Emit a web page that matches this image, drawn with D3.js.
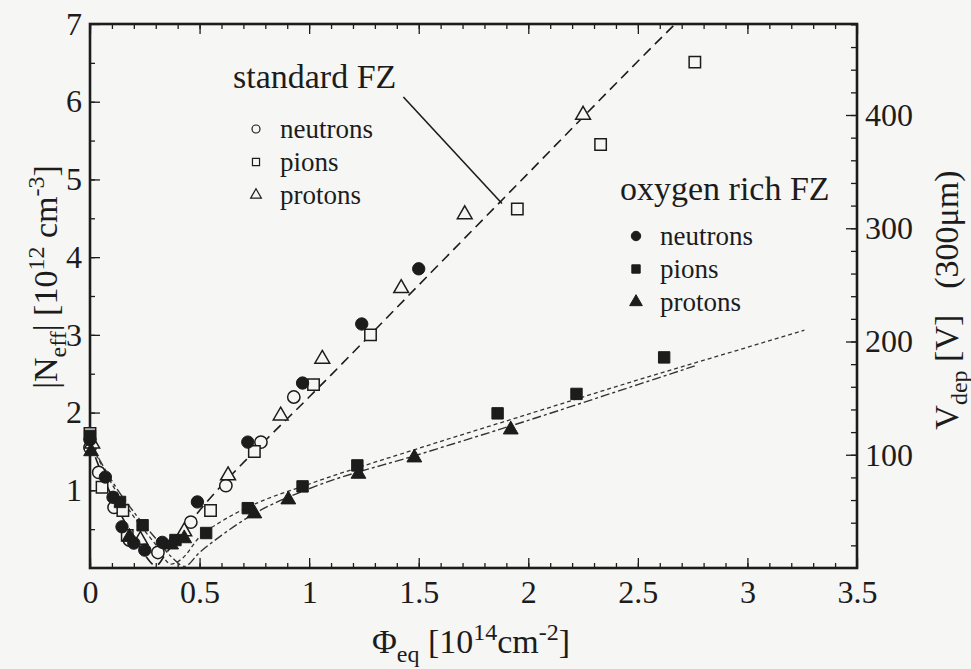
<!DOCTYPE html>
<html>
<head>
<meta charset="utf-8">
<title>Neff vs fluence</title>
<script src="https://cdn.jsdelivr.net/npm/d3@7"></script>
<style>
    body { margin: 0; background: #f6f6f4; }
    svg text { font-family: "Liberation Serif", "Times New Roman", serif; fill: #1c1c1c; }
</style>
</head>
<body>
<script>
    // fluence values in 10^14 cm^-2, |Neff| in 10^12 cm^-3
    var stdNeutronPhi  = [0, 0.04, 0.11, 0.18, 0.31, 0.46, 0.62, 0.78, 0.93];
    var stdNeutronNeff = [1.55, 1.23, 0.78, 0.36, 0.2, 0.59, 1.06, 1.62, 2.2];
    var stdPionPhi  = [0, 0.055, 0.15, 0.17, 0.55, 0.75, 1.02, 1.28, 1.95, 2.33, 2.76];
    var stdPionNeff = [1.73, 1.04, 0.74, 0.42, 0.74, 1.5, 2.36, 3.0, 4.62, 5.45, 6.51];
    var stdProtonPhi  = [0.01, 0.23, 0.43, 0.63, 0.87, 1.06, 1.42, 1.71, 2.25];
    var stdProtonNeff = [1.6, 0.36, 0.47, 1.19, 1.96, 2.69, 3.6, 4.55, 5.83];

    var oxyNeutronPhi  = [0, 0.07, 0.105, 0.146, 0.2, 0.25, 0.33, 0.49, 0.72, 0.97, 1.24, 1.5];
    var oxyNeutronNeff = [1.65, 1.17, 0.91, 0.53, 0.32, 0.23, 0.33, 0.85, 1.62, 2.38, 3.14, 3.85];
    var oxyPionPhi  = [0, 0.137, 0.24, 0.39, 0.53, 0.72, 0.97, 1.22, 1.86, 2.22, 2.62];
    var oxyPionNeff = [1.7, 0.85, 0.55, 0.36, 0.45, 0.77, 1.05, 1.32, 1.99, 2.24, 2.71];
    var oxyProtonPhi  = [0.005, 0.18, 0.37, 0.43, 0.75, 0.905, 1.225, 1.48, 1.92];
    var oxyProtonNeff = [1.5, 0.4, 0.3, 0.38, 0.7, 0.88, 1.21, 1.42, 1.78];

    // fitted curves
    var stdFitPhi  = [0, 0.05, 0.1, 0.15, 0.2, 0.25, 0.3, 0.35, 0.4, 0.5, 0.6, 0.8, 1.0, 1.5, 2.0, 2.5, 2.67];
    var stdFitNeff = [1.62, 1.24, 0.92, 0.64, 0.39, 0.17, 0.03, 0.2, 0.38, 0.74, 1.06, 1.64, 2.2, 3.64, 5.08, 6.52, 7.0];
    var oxyFitAPhi  = [0, 0.1, 0.2, 0.3, 0.37, 0.42, 0.5, 0.6, 0.75, 1.0, 1.5, 2.0, 2.5, 3.0, 3.26];
    var oxyFitANeff = [1.62, 1.08, 0.66, 0.3, 0.05, 0.12, 0.4, 0.6, 0.82, 1.08, 1.54, 1.98, 2.42, 2.84, 3.06];
    var oxyFitBPhi  = [0, 0.1, 0.2, 0.3, 0.38, 0.43, 0.5, 0.6, 0.75, 1.0, 1.5, 2.0, 2.5, 2.76];
    var oxyFitBNeff = [1.62, 1.12, 0.72, 0.38, 0.12, 0.02, 0.2, 0.42, 0.7, 1.02, 1.46, 1.9, 2.36, 2.6];

    var xTicks = [0, 0.5, 1, 1.5, 2, 2.5, 3, 3.5];
    var yTicks = [1, 2, 3, 4, 5, 6, 7];
    var vTicks = [100, 200, 300, 400];
    var legendLabels = ["neutrons", "pions", "protons"];

    var w = 971, h = 669;
    var ink = "#1c1c1c", bg = "#f6f6f4";

    var svg = d3.select("body").append("svg")
            .attr("width", w)
            .attr("height", h);

    var x = d3.scaleLinear().domain([0, 3.5]).range([90, 857]);
    var y = d3.scaleLinear().domain([0, 7]).range([568, 24]);
    var yV = d3.scaleLinear().domain([0, 400]).range([568, 115]);

    function styleAxis(g) {
        g.select(".domain").remove();
        g.selectAll("line").attr("stroke", ink).attr("stroke-width", 1.3);
        g.selectAll("text").attr("font-size", 32).attr("fill", ink)
                .style("font-family", '"Liberation Serif", "Times New Roman", serif');
    }

    var minorX = d3.range(0, 35).map(function(i) { return i / 10; });
    var minorY = d3.range(1, 14).map(function(i) { return i / 2; });
    var minorV = d3.range(20, 481, 20);

    // bottom
    svg.append("g").attr("transform", "translate(0,568)")
            .call(d3.axisBottom(x).tickValues(minorX).tickSize(-5).tickFormat("")).call(styleAxis);
    svg.append("g").attr("transform", "translate(0,568)")
            .call(d3.axisBottom(x).tickValues(xTicks).tickSize(-10).tickPadding(12)
                    .tickFormat(function(d) { return d; })).call(styleAxis);
    // top
    svg.append("g").attr("transform", "translate(0,24)")
            .call(d3.axisTop(x).tickValues(minorX).tickSize(-5).tickFormat("")).call(styleAxis);
    svg.append("g").attr("transform", "translate(0,24)")
            .call(d3.axisTop(x).tickValues(xTicks).tickSize(-10).tickFormat("")).call(styleAxis);
    // left
    svg.append("g").attr("transform", "translate(90,0)")
            .call(d3.axisLeft(y).tickValues(minorY).tickSize(-5).tickFormat("")).call(styleAxis);
    svg.append("g").attr("transform", "translate(90,0)")
            .call(d3.axisLeft(y).tickValues(yTicks).tickSize(-10).tickPadding(8)
                    .tickFormat(function(d) { return d; })).call(styleAxis);
    // right (depletion voltage)
    svg.append("g").attr("transform", "translate(857,0)")
            .call(d3.axisRight(yV).tickValues(minorV).tickSize(-6).tickFormat("")).call(styleAxis);
    svg.append("g").attr("transform", "translate(857,0)")
            .call(d3.axisRight(yV).tickValues(vTicks).tickSize(-11).tickPadding(8)
                    .tickFormat(function(d) { return d; })).call(styleAxis);

    svg.append("rect")
            .attr("x", 90).attr("y", 24)
            .attr("width", 857 - 90).attr("height", 568 - 24)
            .attr("fill", "none").attr("stroke", ink).attr("stroke-width", 2.6);

    // fit lines
    function pairs(xs, ys) { return xs.map(function(d, i) { return [d, ys[i]]; }); }
    var line = d3.line()
            .x(function(d) { return x(d[0]); })
            .y(function(d) { return y(d[1]); })
            .curve(d3.curveMonotoneX);

    svg.append("path").datum(pairs(stdFitPhi, stdFitNeff))
            .attr("d", line).attr("fill", "none").attr("stroke", ink)
            .attr("stroke-width", 1.6).attr("stroke-dasharray", "10,6");
    svg.append("path").datum(pairs(oxyFitAPhi, oxyFitANeff))
            .attr("d", line).attr("fill", "none").attr("stroke", "#333")
            .attr("stroke-width", 1.3).attr("stroke-dasharray", "4,3");
    svg.append("path").datum(pairs(oxyFitBPhi, oxyFitBNeff))
            .attr("d", line).attr("fill", "none").attr("stroke", "#333")
            .attr("stroke-width", 1.4).attr("stroke-dasharray", "9,3,3,3");

    // pointer from "standard FZ" label to its curve
    svg.append("line")
            .attr("x1", x(1.43)).attr("y1", y(6.06))
            .attr("x2", x(1.88)).attr("y2", y(4.69))
            .attr("stroke", ink).attr("stroke-width", 1.6);

    // markers
    var shapes = [d3.symbolCircle, d3.symbolSquare, d3.symbolTriangle];
    var series = [
        {phi: stdNeutronPhi, neff: stdNeutronNeff, shape: 0, open: true},
        {phi: stdPionPhi, neff: stdPionNeff, shape: 1, open: true},
        {phi: stdProtonPhi, neff: stdProtonNeff, shape: 2, open: true},
        {phi: oxyNeutronPhi, neff: oxyNeutronNeff, shape: 0, open: false},
        {phi: oxyPionPhi, neff: oxyPionNeff, shape: 1, open: false},
        {phi: oxyProtonPhi, neff: oxyProtonNeff, shape: 2, open: false}
    ];
    var sizes = [120, 130, 95];

    series.forEach(function(s) {
        svg.append("g").selectAll("path")
                .data(pairs(s.phi, s.neff))
                .enter()
                .append("path")
                .attr("transform", function(d) { return "translate(" + x(d[0]) + "," + y(d[1]) + ")"; })
                .attr("d", d3.symbol().type(shapes[s.shape]).size(sizes[s.shape]))
                .attr("fill", s.open ? bg : ink)
                .attr("stroke", ink)
                .attr("stroke-width", s.open ? 1.5 : 1);
    });

    // legends
    function legend(title, tx, ty, sx, lx, y0, open) {
        svg.append("text").attr("x", tx).attr("y", ty)
                .attr("font-size", 34).text(title);
        legendLabels.forEach(function(lbl, i) {
            var yy = y0 + i * 33;
            svg.append("path")
                    .attr("transform", "translate(" + sx + "," + yy + ")")
                    .attr("d", d3.symbol().type(shapes[i]).size(open ? 50 : 70))
                    .attr("fill", open ? bg : ink)
                    .attr("stroke", ink).attr("stroke-width", open ? 1.2 : 1);
            svg.append("text").attr("x", lx).attr("y", yy + 9)
                    .attr("font-size", 27).text(lbl);
        });
    }
    legend("standard FZ", 233, 88, 256, 280, 129, true);
    legend("oxygen rich FZ", 620, 200, 636, 660, 236, false);

    // axis titles
    var xt = svg.append("text").attr("x", 471).attr("y", 653)
            .attr("text-anchor", "middle").attr("font-size", 34);
    xt.append("tspan").text("\u03A6");
    xt.append("tspan").attr("font-size", 24).attr("dy", 9).text("eq");
    xt.append("tspan").attr("dy", -9).text(" [10");
    xt.append("tspan").attr("font-size", 24).attr("dy", -13).text("14");
    xt.append("tspan").attr("dy", 13).text("cm");
    xt.append("tspan").attr("font-size", 24).attr("dy", -13).text("-2");
    xt.append("tspan").attr("dy", 13).text("]");

    var yt = svg.append("text")
            .attr("transform", "translate(57,277) rotate(-90)")
            .attr("text-anchor", "middle").attr("font-size", 34);
    yt.append("tspan").text("|N");
    yt.append("tspan").attr("font-size", 24).attr("dy", 9).text("eff");
    yt.append("tspan").attr("dy", -9).text("| [10");
    yt.append("tspan").attr("font-size", 24).attr("dy", -13).text("12");
    yt.append("tspan").attr("dy", 13).text(" cm");
    yt.append("tspan").attr("font-size", 24).attr("dy", -13).text("-3");
    yt.append("tspan").attr("dy", 13).text("]");

    var vt = svg.append("text")
            .attr("transform", "translate(958,300) rotate(-90)")
            .attr("text-anchor", "middle").attr("font-size", 34);
    vt.append("tspan").text("V");
    vt.append("tspan").attr("font-size", 24).attr("dy", 9).text("dep");
    vt.append("tspan").attr("dy", -9).text(" [V]");
    vt.append("tspan").attr("dx", 26).text("(300\u03BCm)");
</script>
</body>
</html>
